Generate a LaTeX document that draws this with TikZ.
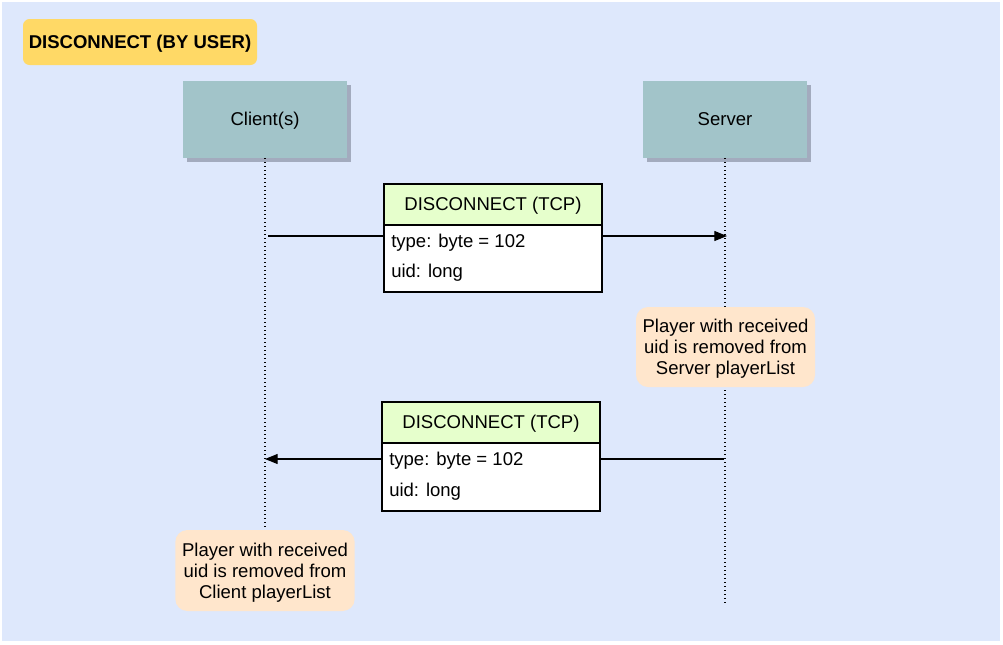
\documentclass[tikz,border=0pt]{standalone}
\usepackage{fontspec}
\setmainfont{Liberation Sans}
\usetikzlibrary{arrows.meta,shadows}
\definecolor{bgblue}{HTML}{DEE8FC}
\definecolor{titleyellow}{HTML}{FFD966}
\definecolor{actorfill}{HTML}{A2C4C9}
\definecolor{shadowcol}{HTML}{A3ABBE}
\definecolor{headgreen}{HTML}{E6FFCC}
\definecolor{notefill}{HTML}{FFE6CC}
\tikzset{
  txt/.style={font=\fontsize{13.9}{15.75}\selectfont, text depth=0pt},
  titlebox/.style={txt, font=\fontsize{13.9}{15.75}\selectfont\bfseries, fill=titleyellow, rounded corners=5pt, inner sep=0pt, text height=1.0em},
  actor/.style={txt, fill=actorfill, inner sep=0pt, minimum width=123pt, minimum height=57.75pt, text height=0.95em,
    drop shadow={shadow xshift=3pt, shadow yshift=-3pt, fill=shadowcol, opacity=1}},
  lifeline/.style={line width=0.8pt, dash pattern=on 0.8pt off 2.2pt},
  msghead/.style={txt, draw=black, line width=0.8pt, fill=headgreen, inner sep=0pt, minimum width=163.5pt, text height=0.9em},
  msgbody/.style={draw=black, line width=0.8pt, fill=white, inner sep=0pt, minimum width=163.5pt},
  row/.style={txt, anchor=west, inner sep=0pt, text height=0.95em},
  msg/.style={line width=0.85pt, -{Triangle[length=9.5pt,width=7.5pt]}},
  note/.style={txt, fill=notefill, rounded corners=9pt, inner sep=0pt, align=center, minimum width=134.5pt, minimum height=60pt},
}
\begin{document}
\begin{tikzpicture}[x=0.75pt,y=-0.75pt]
\useasboundingbox (0,0) rectangle (1003,644);
\fill[bgblue] (2,2) rectangle (1000,641);

\node[titlebox, minimum width=175.5pt, minimum height=34.5pt] (title) at (140,42) {DISCONNECT (BY USER)};

\node[actor] (client) at (265,119.5) {Client(s)};
\node[actor] (server) at (725,119.5) {Server};

% lifelines
\coordinate (cend) at (265,530);
\coordinate (send) at (725,606);
\draw[lifeline] (client.south) -- (cend);
\draw[lifeline] (server.south) -- (send);

% message 1
\coordinate (m1a) at (268,236);
\coordinate (m1b) at (727,236);
\draw[msg] (m1a) -- (m1b);
\node[msghead, minimum height=30.75pt] (h1) at (493,204.5) {DISCONNECT (TCP)};
\node[msgbody, minimum height=50.25pt] (b1) at (493,258.5) {};
\node[row] (r1a) at (391,241) {type: byte = 102};
\node[row] (r1b) at (391,271) {uid: long};

% server note
\node[note, minimum width=134.25pt] (snote) at (725.5,347) {Player with received\\uid is removed from\\Server playerList};

% message 2
\coordinate (m2a) at (724,459);
\coordinate (m2b) at (265,459);
\draw[msg] (m2a) -- (m2b);
\node[msghead, minimum height=30.75pt] (h2) at (491,422.5) {DISCONNECT (TCP)};
\node[msgbody, minimum height=51pt] (b2) at (491,477) {};
\node[row] (r2a) at (389,459) {type: byte = 102};
\node[row] (r2b) at (389,490) {uid: long};

% client note
\node[note, minimum height=60.75pt] (cnote) at (265,570.5) {Player with received\\uid is removed from\\Client playerList};
\end{tikzpicture}
\end{document}
